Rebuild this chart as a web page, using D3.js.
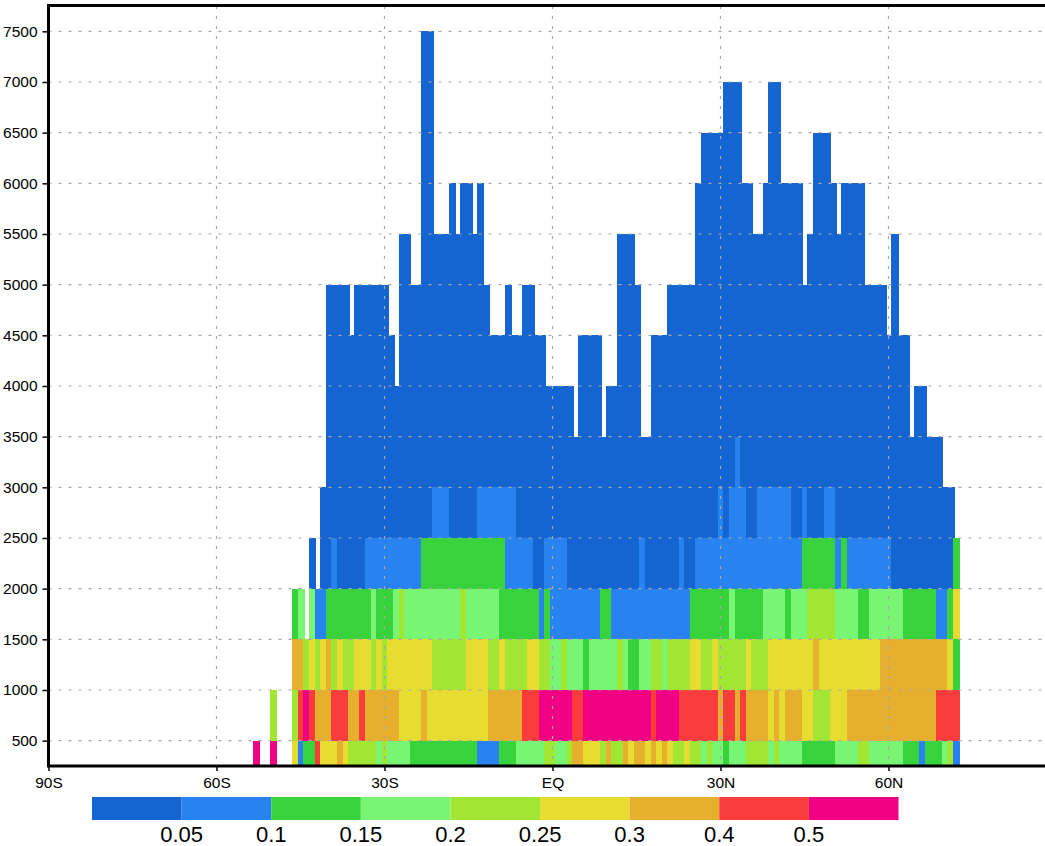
<!DOCTYPE html>
<html>
<head>
<meta charset="utf-8">
<script src="https://cdn.jsdelivr.net/npm/d3@7"></script>
<style>
  body { margin: 0; background: #fff; }
  svg { display: block; font-family: "Liberation Sans", Arial, sans-serif; }
</style>
</head>
<body>
<svg id="chart" width="1045" height="846"></svg>
<script>
// latitude / depth section, 1 degree columns, 500 m bands

var latTicks = [-90, -60, -30, 0, 30, 60];
var latLabels = ['90S', '60S', '30S', 'EQ', '30N', '60N'];
var depthTicks = [500, 1000, 1500, 2000, 2500, 3000, 3500, 4000, 4500, 5000, 5500, 6000, 6500, 7000, 7500];

var classColors = ['#1464d2', '#2882f0', '#37d23c', '#78f573', '#a0e632', '#e6dc32', '#e6af2d', '#fa3c3c', '#f00082'];
var classLabels = ['0.05', '0.1', '0.15', '0.2', '0.25', '0.3', '0.4', '0.5'];

// runs of [first lat, last lat, class] for each band (band500 = 0-500 m)
var band500 = [[-53, -53, 8], [-50, -50, 8],
  [-46, -46, 5], [-45, -45, 1], [-44, -43, 2], [-42, -42, 7], [-41, -39, 5], [-38, -38, 6], [-37, -37, 5],
  [-36, -32, 4], [-31, -31, 3], [-30, -30, 4], [-29, -26, 3], [-25, -14, 2], [-13, -10, 1], [-9, -7, 2],
  [-6, -2, 3], [-1, 0, 4], [1, 2, 3], [3, 3, 4], [4, 5, 6], [6, 8, 5], [9, 9, 4], [10, 10, 6], [11, 12, 4],
  [13, 13, 6], [14, 14, 5], [15, 16, 6], [17, 17, 5], [18, 18, 6], [19, 19, 5], [20, 20, 6], [21, 21, 5],
  [22, 23, 4], [24, 24, 5], [25, 26, 4], [27, 27, 3], [28, 28, 4], [29, 30, 3], [31, 31, 2], [32, 34, 3],
  [35, 38, 4], [39, 39, 3], [40, 40, 4], [41, 44, 3], [45, 50, 2], [51, 54, 3], [55, 56, 4], [57, 62, 3],
  [63, 65, 2], [66, 66, 1], [67, 69, 2], [70, 70, 3], [71, 71, 4], [72, 72, 1]];

var band1000 = [[-50, -50, 4],
  [-46, -46, 4], [-45, -45, 7], [-44, -44, 8], [-43, -43, 7], [-42, -40, 6], [-39, -37, 7], [-36, -35, 6],
  [-34, -34, 7], [-33, -28, 6], [-27, -24, 5], [-23, -23, 6], [-22, -12, 5], [-11, -6, 6], [-5, -3, 7],
  [-2, 3, 8], [4, 5, 7], [6, 17, 8], [18, 18, 7], [19, 22, 8], [23, 29, 7], [30, 30, 6], [31, 32, 7], [33, 33, 6],
  [34, 34, 7], [35, 38, 6], [39, 39, 5], [40, 40, 6], [41, 41, 5], [42, 44, 6], [45, 46, 5], [47, 49, 4],
  [50, 52, 5], [53, 68, 6], [69, 72, 7]];

var band1500 = [[-46, -45, 6], [-44, -44, 4], [-43, -43, 5], [-42, -42, 4], [-41, -41, 5], [-40, -40, 6], [-39, -39, 4],
  [-38, -38, 5], [-37, -36, 4], [-35, -33, 5], [-32, -32, 4], [-31, -31, 5], [-30, -30, 4], [-29, -22, 5],
  [-21, -16, 4], [-15, -12, 5], [-11, -10, 4], [-9, -9, 5], [-8, -5, 4], [-4, -3, 5], [-2, -1, 4], [0, 1, 3],
  [2, 2, 4], [3, 5, 3], [6, 6, 2], [7, 11, 3], [12, 12, 4], [13, 13, 3], [14, 15, 2], [16, 17, 3], [18, 19, 4],
  [20, 20, 3], [21, 24, 4], [25, 26, 5], [27, 28, 4], [29, 29, 5], [30, 34, 4], [35, 35, 5], [36, 38, 4],
  [39, 46, 5], [47, 47, 6], [48, 58, 5], [59, 70, 6], [71, 71, 5], [72, 72, 2]];

var band2000 = [[-46, -46, 2], [-45, -45, 3], [-43, -43, 3], [-42, -41, 1], [-40, -33, 2], [-32, -32, 3], [-31, -29, 2],
  [-28, -28, 3], [-27, -27, 4], [-26, -17, 3], [-16, -16, 4], [-15, -10, 3], [-9, -3, 2], [-2, -2, 1],
  [-1, -1, 2], [0, 8, 1], [9, 10, 2], [11, 24, 1], [25, 31, 2], [32, 32, 3], [33, 37, 2], [38, 41, 3],
  [42, 42, 2], [43, 45, 3], [46, 50, 4], [51, 54, 3], [55, 56, 2], [57, 62, 3], [63, 68, 2], [69, 70, 1],
  [71, 71, 2], [72, 72, 5]];

var band2500 = [[-43, -43, 0], [-41, -40, 0], [-39, -39, 1], [-38, -34, 0], [-33, -24, 1], [-23, -9, 2], [-8, -4, 1],
  [-3, -2, 0], [-1, 2, 1], [3, 15, 0], [16, 16, 1], [17, 22, 0], [23, 23, 1], [24, 25, 0], [26, 44, 1],
  [45, 50, 2], [51, 51, 1], [52, 52, 2], [53, 60, 1], [61, 71, 0], [72, 72, 2]];

var band3000 = [[-41, -22, 0], [-21, -19, 1], [-18, -14, 0], [-13, -7, 1], [-6, 29, 0], [30, 30, 1], [31, 31, 0],
  [32, 34, 1], [35, 36, 0], [37, 42, 1], [43, 44, 0], [45, 45, 1], [46, 48, 0], [49, 50, 1], [51, 71, 0]];

// deepest band of each column; everything below 3000 m is class 0
var columnTop = [[-41, -41, 3000], [-40, -37, 5000], [-36, -36, 4500], [-35, -30, 5000], [-29, -29, 4500], [-28, -28, 4000],
  [-27, -26, 5500], [-25, -24, 5000], [-23, -22, 7500], [-21, -19, 5500], [-18, -18, 6000], [-17, -17, 5500],
  [-16, -15, 6000], [-14, -14, 5500], [-13, -13, 6000], [-12, -12, 5000], [-11, -9, 4500], [-8, -8, 5000],
  [-7, -6, 4500], [-5, -4, 5000], [-3, -2, 4500], [-1, 3, 4000], [4, 4, 3500], [5, 8, 4500], [9, 9, 3500],
  [10, 11, 4000], [12, 14, 5500], [15, 15, 5000], [16, 17, 3500], [18, 20, 4500], [21, 25, 5000], [26, 26, 6000],
  [27, 30, 6500], [31, 33, 7000], [34, 35, 6000], [36, 37, 5500], [38, 38, 6000], [39, 40, 7000], [41, 44, 6000],
  [45, 45, 5000], [46, 46, 5500], [47, 49, 6500], [50, 50, 6000], [51, 51, 5500], [52, 55, 6000], [56, 59, 5000],
  [60, 60, 4500], [61, 61, 5500], [62, 63, 4500], [64, 64, 3500], [65, 66, 4000], [67, 69, 3500], [70, 71, 3000]];

var band3500Extra = [[33, 33, 1]];

var plot = { left: 48.5, right: 1056.5, top: 6, bottom: 766 };

var x = d3.scaleLinear().domain([-90, 90]).range([plot.left, plot.right]);
var y = d3.scaleLinear().domain([250, 7750]).range([plot.bottom, plot.top]);

function expand(runs) {
  var cells = [];
  runs.forEach(function(run) {
    for (var lat = run[0]; lat <= run[1]; lat++) {
      cells.push({ lat: lat, cls: run[2] });
    }
  });
  return cells;
}

var bands = [
  { level: 500, cells: expand(band500) },
  { level: 1000, cells: expand(band1000) },
  { level: 1500, cells: expand(band1500) },
  { level: 2000, cells: expand(band2000) },
  { level: 2500, cells: expand(band2500) },
  { level: 3000, cells: expand(band3000) }
];

var extra = {};
expand(band3500Extra).forEach(function(c) { extra[c.lat] = c.cls; });

for (var level = 3500; level <= 7500; level += 500) {
  var cells = expand(columnTop)
    .filter(function(c) { return c.cls >= level; })
    .map(function(c) {
      var cls = (level === 3500 && extra[c.lat] !== undefined) ? extra[c.lat] : 0;
      return { lat: c.lat, cls: cls };
    });
  bands.push({ level: level, cells: cells });
}

var svg = d3.select('#chart');

svg.append('defs').append('clipPath')
    .attr('id', 'plot-clip')
  .append('rect')
    .attr('x', plot.left)
    .attr('y', plot.top)
    .attr('width', plot.right - plot.left)
    .attr('height', plot.bottom - plot.top);

var cellLayer = svg.append('g')
  .attr('clip-path', 'url(#plot-clip)')
  .attr('shape-rendering', 'crispEdges');

// each column is drawn a little wider than 1 degree, west to east
bands.forEach(function(band) {
  cellLayer.append('g').selectAll('rect')
    .data(band.cells)
    .enter().append('rect')
      .attr('x', function(d) { return x(d.lat - 0.5); })
      .attr('width', function(d) { return x(d.lat + 0.8) - x(d.lat - 0.5); })
      .attr('y', y(band.level))
      .attr('height', y(band.level - 500) - y(band.level))
      .attr('fill', function(d) { return classColors[d.cls]; });
});

var grid = svg.append('g')
  .attr('stroke', '#a8a8a8')
  .attr('stroke-width', 1.2)
  .attr('stroke-dasharray', '3,7');

grid.selectAll('.hgrid')
  .data(depthTicks)
  .enter().append('line')
    .attr('class', 'hgrid')
    .attr('x1', plot.left)
    .attr('x2', plot.right)
    .attr('y1', function(d) { return y(d); })
    .attr('y2', function(d) { return y(d); });

grid.selectAll('.vgrid')
  .data(latTicks.slice(1))
  .enter().append('line')
    .attr('class', 'vgrid')
    .attr('x1', function(d) { return x(d); })
    .attr('x2', function(d) { return x(d); })
    .attr('y1', plot.top)
    .attr('y2', plot.bottom);

var yAxis = svg.append('g')
  .attr('transform', 'translate(' + plot.left + ',0)')
  .call(d3.axisLeft(y).tickValues(depthTicks).tickSize(6).tickPadding(5).tickFormat(d3.format('d')));

var xAxis = svg.append('g')
  .attr('transform', 'translate(0,' + plot.bottom + ')')
  .call(d3.axisBottom(x).tickValues(latTicks).tickSize(5).tickPadding(6)
    .tickFormat(function(d, i) { return latLabels[i]; }));

[yAxis, xAxis].forEach(function(axis) {
  axis.select('.domain').remove();
  axis.attr('font-size', 15.5).attr('font-family', '"Liberation Sans", Arial, sans-serif');
  axis.selectAll('.tick line').attr('stroke', '#000').attr('stroke-width', 1.5);
  axis.selectAll('.tick text').attr('fill', '#000');
});

svg.append('rect')
  .attr('x', plot.left)
  .attr('y', 5.5)
  .attr('width', plot.right - plot.left)
  .attr('height', plot.bottom - 5.5)
  .attr('fill', 'none')
  .attr('stroke', '#000')
  .attr('stroke-width', 3);

// colour bar
var cb = d3.scaleLinear().domain([0, classColors.length]).range([92, 898.5]);

svg.append('g').selectAll('rect')
  .data(classColors)
  .enter().append('rect')
    .attr('x', function(d, i) { return cb(i); })
    .attr('width', cb(1) - cb(0))
    .attr('y', 797)
    .attr('height', 23)
    .attr('fill', function(d) { return d; });

svg.append('g').selectAll('text')
  .data(classLabels)
  .enter().append('text')
    .attr('x', function(d, i) { return cb(i + 1); })
    .attr('y', 842)
    .attr('text-anchor', 'middle')
    .attr('font-size', 22)
    .text(function(d) { return d; });
</script>
</body>
</html>
